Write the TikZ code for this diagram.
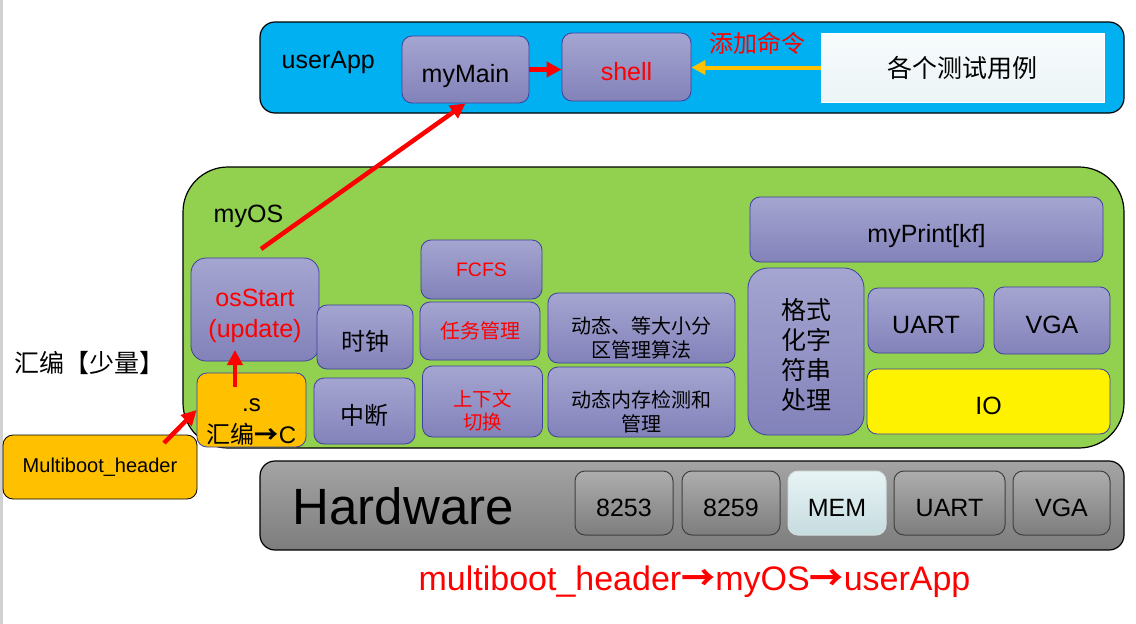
\documentclass[tikz,border=0pt]{standalone}
\usepackage{fontspec}
\setmainfont{Liberation Sans}
\newfontfamily\cjk{Noto Sans CJK SC}
\usepackage{xcolor}
\usepackage{tikz}
\usetikzlibrary{arrows.meta}
\usetikzlibrary{shapes}

\definecolor{appblue}{HTML}{00B0F0}
\definecolor{osgreen}{HTML}{92D050}
\definecolor{bootorange}{HTML}{FFC000}
\definecolor{modtop}{HTML}{A5A5D1}
\definecolor{modbot}{HTML}{8282BA}
\definecolor{modline}{HTML}{3F3F9F}
\definecolor{hwtop}{HTML}{A4A4A4}
\definecolor{hwbot}{HTML}{7D7D7D}
\definecolor{memtop}{HTML}{E8F4F6}
\definecolor{membot}{HTML}{C6DCDF}
\definecolor{casetop}{HTML}{F7FBFC}
\definecolor{casebot}{HTML}{ECF4F6}

\begin{document}
\begin{tikzpicture}[
  x=1pt, y=-1pt,
  thick,
  font=\fontsize{25}{30}\selectfont
]
\tikzset{
    layernode/.style = {rectangle, rounded corners=15pt, draw=black, line width=1.2pt, inner sep=0pt},
    modnode/.style = {rectangle, rounded corners=10pt, draw=modline, line width=0.8pt, top color=modtop, bottom color=modbot, align=center, inner sep=0pt},
    bootnode/.style = {rectangle, rounded corners=10pt, draw=modline, line width=0.8pt, fill=bootorange, align=center, inner sep=0pt},
    hwnode/.style = {rectangle, rounded corners=10pt, draw=black!75, line width=1pt, top color=hwtop!90!white, bottom color=hwbot, inner sep=0pt, text height=26.5pt, text depth=0pt},
    lowtext/.style = {text height=26.5pt, text depth=0pt},
    redarrow/.style = {-{Triangle[length=15pt,width=15pt]}, red, line width=4.5pt},
}
\useasboundingbox (0,0) rectangle (1136,624);
\fill[black!18] (0,0) rectangle (2.5,624);

\node[layernode, fill=appblue, minimum width=864pt, minimum height=91pt] (userApp) at (692,67.5) {};
\node[anchor=west] (userAppLabel) at (278,62) {userApp};
\node[modnode, lowtext, minimum width=127pt, minimum height=67pt] (myMain) at (465.5,69.5) {myMain};
\node[modnode, lowtext, text=red, minimum width=129pt, minimum height=68pt] (shell) at (626.5,67) {shell};
\node[rectangle, draw=white, top color=casetop, bottom color=casebot, minimum width=283pt, minimum height=69pt, font=\cjk\fontsize{25}{29}\selectfont] (cases) at (962.5,67.5) {各个测试用例};
\node[text=red, font=\cjk\fontsize{24}{29}\selectfont] (addCmd) at (757,43) {添加命令};

\node[layernode, rounded corners=45pt, fill=osgreen, minimum width=941pt, minimum height=281pt] (myOS) at (653.5,307.5) {};
\node[anchor=west] (myOSLabel) at (210,216) {myOS};
\node[modnode, rounded corners=15pt, minimum width=128pt, minimum height=103pt] (osStart) at (255,309.5) {};
\node[text=red, align=center, font=\fontsize{25}{31}\selectfont] (osStartText) at ([yshift=-6pt]osStart.center) {osStart\\(update)};
\node[modnode, lowtext, minimum width=96pt, minimum height=64pt, font=\cjk\fontsize{24}{29}\selectfont] (clock) at (365,337) {时钟};
\node[modnode, lowtext, minimum width=101pt, minimum height=66pt, font=\cjk\fontsize{24}{29}\selectfont] (irq) at (364.5,411) {中断};
\node[bootnode, minimum width=109pt, minimum height=74pt] (dotS) at (251.5,410) {};
\node[align=center, font=\fontsize{24}{32}\selectfont] (dotSText) at ([yshift=-12pt]dotS.center) {.s\\{\cjk 汇编{\bfseries →}}C};
\node[bootnode, draw=black, minimum width=194pt, minimum height=64pt, font=\fontsize{20}{24}\selectfont] (mbHeader) at (100,467) {Multiboot\_header};
\node[font=\cjk\fontsize{25}{29}\selectfont] (asmLabel) at (90,363) {汇编【少量】};

\node[modnode, text=red, minimum width=121pt, minimum height=59pt, font=\fontsize{19.5}{23}\selectfont] (fcfs) at (481.5,269.5) {FCFS};
\node[modnode, text=red, minimum width=120pt, minimum height=58pt, font=\cjk\fontsize{20}{24}\selectfont] (task) at (480,331) {任务管理};
\node[modnode, minimum width=120pt, minimum height=71pt] (ctx) at (482.5,401.5) {};
\node[text=red, align=center, font=\cjk\fontsize{19.5}{23}\selectfont] (ctxText) at ([yshift=-9pt]ctx.center) {上下文\\切换};
\node[modnode, minimum width=187pt, minimum height=70pt] (memAlg) at (641.5,328) {};
\node[align=center, font=\cjk\fontsize{20}{24}\selectfont] (memAlgText) at ([yshift=-10pt]memAlg.center) {动态、等大小分\\区管理算法};
\node[modnode, minimum width=187pt, minimum height=70pt] (memChk) at (641.5,402) {};
\node[align=center, font=\cjk\fontsize{20}{24}\selectfont] (memChkText) at ([yshift=-10pt]memChk.center) {动态内存检测和\\管理};
\node[modnode, lowtext, minimum width=353pt, minimum height=65pt] (myPrint) at (926.5,229.5) {myPrint[kf]};
\node[modnode, rounded corners=20pt, minimum width=116pt, minimum height=167pt] (fmt) at (806,351.5) {};
\node[align=center, font=\cjk\fontsize{25}{30}\selectfont] (fmtText) at ([yshift=-3pt]fmt.center) {格式\\化字\\符串\\处理};
\node[modnode, lowtext, minimum width=116pt, minimum height=65pt] (uartOS) at (926,320.5) {UART};
\node[modnode, lowtext, minimum width=116pt, minimum height=67pt] (vgaOS) at (1052,320.5) {VGA};
\node[bootnode, lowtext, fill=yellow, minimum width=243pt, minimum height=65pt] (io) at (988.5,401.5) {IO};

\node[layernode, top color=hwtop, bottom color=hwbot, minimum width=864pt, minimum height=89pt] (hw) at (692,505.5) {};
\node[anchor=west, font=\fontsize{51}{60}\selectfont] (hwLabel) at (289,506) {Hardware};
\node[hwnode, minimum width=98pt, minimum height=64pt] (pit) at (624,503) {8253};
\node[hwnode, minimum width=98pt, minimum height=64pt] (pic) at (731,503) {8259};
\node[hwnode, draw=memtop!80!gray, top color=memtop, bottom color=membot, minimum width=98pt, minimum height=64pt] (mem) at (837,503) {MEM};
\node[hwnode, minimum width=111pt, minimum height=64pt] (uartHW) at (949.5,503) {UART};
\node[hwnode, minimum width=97pt, minimum height=64pt] (vgaHW) at (1061.5,503) {VGA};

\node[text=red, font=\fontsize{34}{40}\selectfont] (bootOrder) at (694.5,582) {multiboot\_header{\cjk\bfseries →}myOS{\cjk\bfseries →}userApp};

\coordinate (osOut) at (261,249);
\coordinate (dotOut) at (235,387);
\coordinate (osIn) at (235,350);
\coordinate (mbOut) at (164,443);
\draw[redarrow] (myMain.east) -- (myMain.east -| shell.west);
\draw[-{Triangle[length=14pt,width=14pt]}, bootorange, line width=4pt] (cases.west) -- (cases.west -| shell.east);
\draw[redarrow] (osOut) -- (myMain.south);
\draw[redarrow] (dotOut) -- (osIn);
\draw[redarrow] (mbOut) -- (dotS.west);
\end{tikzpicture}
\end{document}
